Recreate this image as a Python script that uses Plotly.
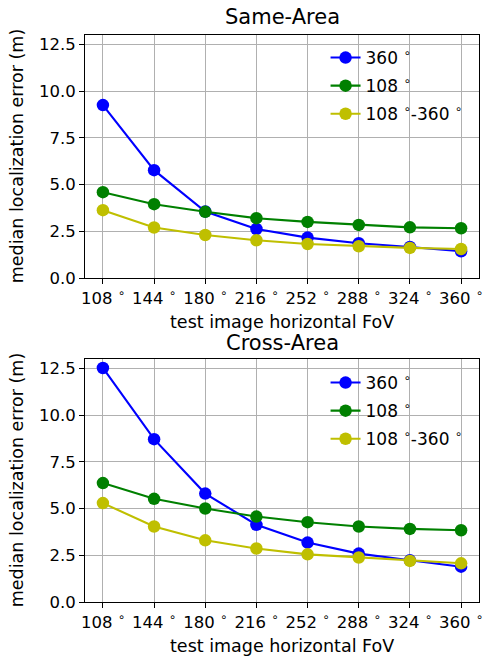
import plotly.graph_objects as go

fov = [108, 144, 180, 216, 252, 288, 324, 360]
tick_labels = [f"{v} <sup>∘</sup>" for v in fov]

series_names = ["360 <sup>∘</sup>", "108 <sup>∘</sup>", "108 <sup>∘</sup>-360 <sup>∘</sup>"]
colors = ["#0000ff", "#008000", "#bfbf00"]

same_360 = [9.25, 5.77, 3.56, 2.62, 2.16, 1.86, 1.66, 1.43]
same_108 = [4.59, 3.95, 3.54, 3.20, 3.00, 2.84, 2.71, 2.66]
same_108_360 = [3.63, 2.70, 2.30, 2.02, 1.82, 1.70, 1.61, 1.55]

cross_360 = [12.52, 8.71, 5.80, 4.13, 3.18, 2.59, 2.23, 1.89]
cross_108 = [6.36, 5.52, 5.00, 4.57, 4.27, 4.04, 3.91, 3.84]
cross_108_360 = [5.29, 4.04, 3.30, 2.86, 2.55, 2.38, 2.20, 2.07]

titles = ["Same-Area", "Cross-Area"]
x_title = "test image horizontal FoV"
y_title = "median localization error (m)"

FONT = "DejaVu Sans"
W, H = 484, 656
ML, MR, MT, MB = 85, 1, 35, 54
PW, PH = W - ML - MR, H - MT - MB

fig = go.Figure()
panels = [(same_360, same_108, same_108_360), (cross_360, cross_108, cross_108_360)]
for p, vals in enumerate(panels):
    for i, ys in enumerate(vals):
        fig.add_trace(go.Scatter(
            x=tick_labels, y=ys, name=series_names[i], mode="lines+markers",
            line=dict(color=colors[i], width=2.1),
            marker=dict(color=colors[i], size=12.5),
            xaxis="x" if p == 0 else "x2", yaxis="y" if p == 0 else "y2",
            legend="legend" if p == 0 else "legend2",
            legendgroup=f"g{p}{i}",
        ))

axis_common = dict(
    showline=True, linecolor="black", linewidth=1.1, mirror=True,
    ticks="outside", ticklen=5, tickwidth=1.1, tickcolor="black",
    showgrid=True, gridcolor="#b0b0b0", gridwidth=1.1,
    tickfont=dict(family=FONT, size=16.5, color="black"), zeroline=False,
)
top_dom = [1 - 243 / PH, 1]
bot_dom = [0, 243 / PH]
fig.update_layout(
    width=W, height=H, margin=dict(l=ML, r=MR, t=MT, b=MB),
    paper_bgcolor="white", plot_bgcolor="white",
    font=dict(family=FONT, color="black"),
    xaxis=dict(axis_common, type="category", range=[-0.35, 7.35], domain=[0, 1], anchor="y"),
    yaxis=dict(axis_common, range=[0, 13.0], domain=top_dom, anchor="x",
               tickvals=[0, 2.5, 5, 7.5, 10, 12.5], ticktext=["0.0", "2.5", "5.0", "7.5", "10.0", "12.5"]),
    xaxis2=dict(axis_common, type="category", range=[-0.35, 7.35], domain=[0, 1], anchor="y2"),
    yaxis2=dict(axis_common, range=[0, 13.0], domain=bot_dom, anchor="x2",
                tickvals=[0, 2.5, 5, 7.5, 10, 12.5], ticktext=["0.0", "2.5", "5.0", "7.5", "10.0", "12.5"]),
    legend=dict(x=(328 - ML) / PW, y=(H - MB - 40) / PH, xanchor="left", yanchor="top",
                bgcolor="rgba(0,0,0,0)", font=dict(family=FONT, size=17), tracegroupgap=3),
    legend2=dict(x=(328 - ML) / PW, y=(H - MB - 365) / PH, xanchor="left", yanchor="top",
                 bgcolor="rgba(0,0,0,0)", font=dict(family=FONT, size=17), tracegroupgap=3),
)

def px_y(y):
    return (H - MB - y) / PH

def px_x(x):
    return (x - ML) / PW

ann = []
ann.append(dict(text=titles[0], x=0.5, y=px_y(17), xref="paper", yref="paper", showarrow=False,
                font=dict(family=FONT, size=21), xanchor="center", yanchor="middle"))
ann.append(dict(text=titles[1], x=0.5, y=px_y(343), xref="paper", yref="paper", showarrow=False,
                font=dict(family=FONT, size=21), xanchor="center", yanchor="middle"))
for yc in (322, 646):
    ann.append(dict(text=x_title, x=0.5, y=px_y(yc), xref="paper", yref="paper", showarrow=False,
                    font=dict(family=FONT, size=17.5), xanchor="center", yanchor="middle"))
for yc in (156.5, 480.5):
    ann.append(dict(text=y_title, x=px_x(16), y=px_y(yc), xref="paper", yref="paper", showarrow=False,
                    textangle=-90, font=dict(family=FONT, size=17.5), xanchor="center", yanchor="middle"))
fig.update_layout(annotations=ann)

fig.write_html("out.html", config={"displayModeBar": False},
               post_script="document.body.style.margin='0';document.body.style.overflow='hidden';")
